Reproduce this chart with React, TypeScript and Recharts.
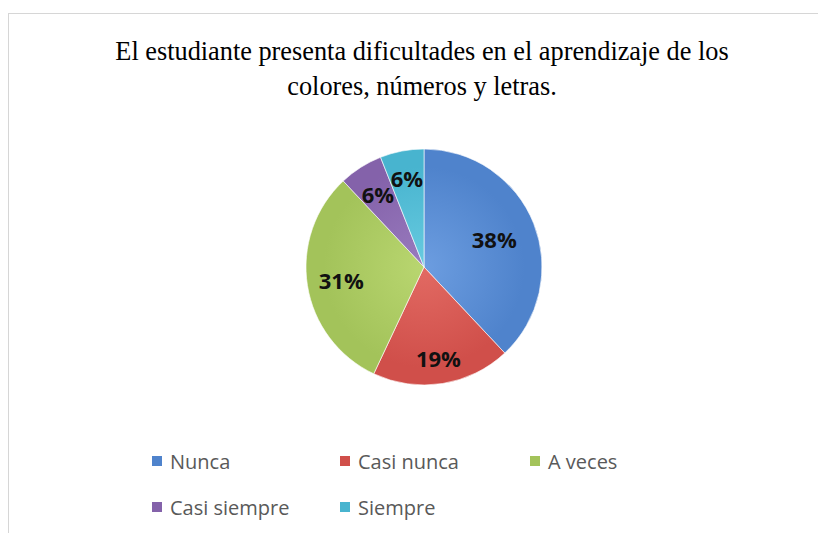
import { Cell, Legend, Pie, PieChart } from "recharts";

const categories = ["Nunca", "Casi nunca", "A veces", "Casi siempre", "Siempre"];
const percentages = [38, 19, 31, 6, 6];

const colors = ["#4f83cc", "#d04f4a", "#a3c35a", "#8462aa", "#48b4cf"];
const lightColors = ["#6c9de0", "#e26a63", "#b9d670", "#997bbe", "#68cbe0"];
const labelRadius = [0.64, 0.78, 0.71, 0.73, 0.77];

const W = 818;
const H = 520;
const CX = 416;
const CY = 254;
const R = 118;

const data = categories.map((name, i) => ({ name, value: percentages[i] }));

const RADIAN = Math.PI / 180;

function renderLabel(props: any) {
  const { cx, cy, midAngle, outerRadius, index, value } = props;
  const r = outerRadius * labelRadius[index];
  const x = cx + r * Math.cos(-midAngle * RADIAN);
  const y = cy + r * Math.sin(-midAngle * RADIAN);
  return (
    <text
      x={x}
      y={y}
      textAnchor="middle"
      dominantBaseline="central"
      fill="#111"
      fontFamily="'Open Sans', sans-serif"
      fontWeight={700}
      fontSize={22}
    >
      {`${value}%`}
    </text>
  );
}

function LegendContent() {
  return (
    <div
      style={{
        display: "grid",
        gridTemplateColumns: "188px 190px 188px",
        rowGap: 20,
        fontFamily: "'Open Sans', sans-serif",
        fontSize: 20,
        color: "#595959",
      }}
    >
      {categories.map((c, i) => (
        <div key={c} style={{ display: "flex", alignItems: "center", height: 26 }}>
          <span
            style={{
              display: "inline-block",
              width: 10,
              height: 10,
              marginRight: 8,
              background: colors[i],
            }}
          />
          {c}
        </div>
      ))}
    </div>
  );
}

export default function App() {
  return (
    <div style={{ width: W, height: H, marginTop: 5, overflow: "hidden", position: "relative" }}>
      <div
        style={{
          position: "absolute",
          left: 0,
          top: 0,
          width: W + 20,
          height: H + 20,
          border: "1px solid #d6d6d6",
          boxSizing: "border-box",
        }}
      />
      <div
        style={{
          position: "absolute",
          left: 0,
          top: 21,
          width: 828,
          textAlign: "center",
          fontFamily: "'Liberation Serif', 'Times New Roman', serif",
          fontSize: 26.3,
          lineHeight: "35px",
          color: "#000",
        }}
      >
        El estudiante presenta dificultades en el aprendizaje de los
        <br />
        colores, números y letras.
      </div>
      <PieChart
        width={W}
        height={H}
        margin={{ top: 0, right: 0, bottom: 0, left: 0 }}
        style={{ position: "absolute", left: 0, top: 0 }}
      >
        <defs>
          {colors.map((c, i) => (
            <radialGradient
              key={c}
              id={`grad${i}`}
              gradientUnits="userSpaceOnUse"
              cx={CX}
              cy={CY}
              r={R}
            >
              <stop offset="0%" stopColor={lightColors[i]} />
              <stop offset="85%" stopColor={colors[i]} />
              <stop offset="100%" stopColor={colors[i]} />
            </radialGradient>
          ))}
        </defs>
        <Pie
          data={data}
          dataKey="value"
          nameKey="name"
          cx={CX}
          cy={CY}
          outerRadius={R}
          startAngle={90}
          endAngle={-270}
          stroke="rgba(255,255,255,0.6)"
          strokeWidth={1}
          label={renderLabel}
          labelLine={false}
          isAnimationActive={false}
        >
          {data.map((d, i) => (
            <Cell key={d.name} fill={`url(#grad${i})`} />
          ))}
        </Pie>
        <Legend
          content={LegendContent}
          wrapperStyle={{ left: 144, top: 435, width: 600 }}
        />
      </PieChart>
    </div>
  );
}
